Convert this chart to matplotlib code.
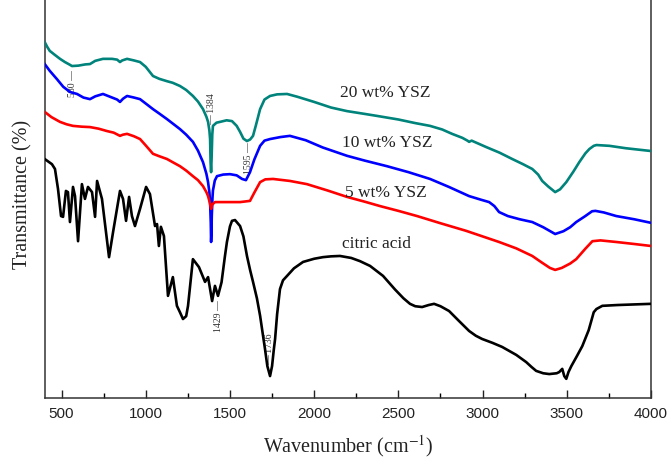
import matplotlib
matplotlib.use("Agg")
import matplotlib.pyplot as plt

# ---- data ----
w_ysz20 = [400, 415, 430, 460, 491, 520, 550, 562, 600, 640, 669, 700, 746, 800, 830, 847, 860, 889, 930, 966,
           1000, 1043, 1080, 1126, 1160, 1203, 1240, 1280, 1310, 1340, 1360, 1370, 1378, 1382, 1385, 1388, 1391,
           1395, 1399, 1420, 1441, 1480, 1512, 1540, 1560, 1580, 1601, 1620, 1637, 1655, 1679, 1705, 1738, 1780,
           1839, 1900, 2000, 2100, 2195, 2300, 2373, 2500, 2600, 2688, 2760, 2819, 2880, 2910, 2920, 2935, 3021,
           3100, 3176, 3240, 3295, 3330, 3354, 3390, 3431, 3460, 3497, 3540, 3574, 3610, 3634, 3660, 3676, 3753,
           3850, 4000]
t_ysz20 = [89.2, 88.0, 87.0, 86.0, 85.0, 84.2, 83.5, 83.2, 83.3, 83.6, 83.7, 84.5, 85.0, 85.0, 84.8, 84.2, 84.6, 85.0,
           84.6, 84.2, 83.0, 80.7, 80.0, 79.4, 79.0, 78.2, 77.2, 75.7, 74.3, 72.4, 70.5, 69.2, 67.0, 64.9, 59.0,
           56.6, 60.0, 66.0, 68.2, 69.0, 69.2, 69.6, 69.4, 68.2, 66.7, 65.0, 64.4, 64.8, 65.7, 68.5, 72.4, 74.8,
           75.7, 76.1, 76.2, 75.5, 74.2, 72.8, 71.9, 71.2, 70.7, 69.8, 68.9, 68.2, 67.3, 66.2, 65.2, 64.5, 64.2,
           64.5, 62.9, 61.5, 59.9, 58.6, 57.4, 56.0, 54.4, 53.0, 51.6, 52.3, 54.1, 56.8, 59.1, 61.3, 62.4, 63.2,
           63.4, 63.2, 62.6, 61.9]

w_ysz10 = [400, 430, 473, 510, 550, 592, 630, 669, 700, 746, 800, 830, 847, 865, 889, 930, 966, 1000, 1043, 1080,
           1126, 1160, 1203, 1240, 1280, 1310, 1340, 1360, 1370, 1378, 1382, 1386, 1388, 1390, 1392, 1396, 1399,
           1410, 1423, 1460, 1500, 1540, 1572, 1595, 1619, 1645, 1679, 1705, 1738, 1800, 1856, 1950, 2050, 2195,
           2300, 2432, 2560, 2688, 2800, 2920, 2990, 3039, 3070, 3098, 3150, 3220, 3295, 3360, 3431, 3480, 3520,
           3556, 3610, 3650, 3670, 3720, 3794, 3900, 4000]
t_ysz10 = [83.7, 82.0, 79.9, 78.0, 76.7, 76.2, 75.3, 74.9, 75.6, 76.2, 75.3, 74.8, 74.2, 75.0, 75.7, 75.3, 74.9, 73.8,
           72.4, 71.3, 69.9, 68.8, 67.4, 66.0, 64.2, 62.0, 59.1, 56.2, 54.1, 51.5, 49.1, 44.0, 39.1, 41.0, 45.5,
           50.0, 52.0, 54.5, 55.6, 56.0, 56.1, 55.8, 54.9, 54.6, 56.6, 59.8, 63.2, 64.5, 64.9, 65.4, 65.7, 64.6,
           62.8, 60.7, 59.5, 58.1, 56.6, 54.9, 52.9, 50.6, 49.7, 49.1, 48.1, 46.6, 45.6, 44.8, 44.1, 42.8, 41.1,
           41.8, 42.8, 44.1, 45.6, 46.8, 46.9, 46.5, 45.6, 44.8, 43.9]

w_ysz5 = [400, 440, 491, 530, 568, 620, 669, 720, 770, 810, 847, 865, 889, 930, 966, 1000, 1043, 1080, 1126, 1160,
          1203, 1240, 1280, 1310, 1340, 1360, 1370, 1380, 1388, 1395, 1411, 1482, 1560, 1619, 1645, 1679, 1710,
          1756, 1856, 1957, 2080, 2195, 2300, 2391, 2500, 2611, 2750, 2902, 3000, 3098, 3200, 3295, 3350, 3400,
          3431, 3470, 3520, 3556, 3610, 3652, 3700, 3794, 3900, 4000]
t_ysz5 = [71.7, 70.4, 69.2, 68.6, 68.2, 68.0, 67.9, 67.5, 66.9, 66.5, 65.7, 66.0, 66.2, 65.6, 64.9, 63.3, 61.2, 60.6,
          59.9, 59.1, 58.1, 57.0, 55.6, 54.6, 53.1, 51.6, 50.6, 49.0, 47.4, 48.5, 49.1, 49.1, 49.1, 49.4, 51.5,
          54.1, 54.8, 54.9, 54.4, 53.6, 52.0, 50.4, 49.2, 48.1, 46.9, 45.6, 43.8, 41.9, 40.5, 39.1, 37.5, 35.6,
          34.0, 32.6, 32.1, 32.6, 33.7, 34.8, 37.4, 39.3, 39.5, 39.1, 38.6, 38.1]

w_citric = [400, 443, 461, 479, 497, 509, 526, 538, 550, 568, 580, 598, 621, 639, 657, 681, 699, 711, 740, 782, 806,
            847, 865, 883, 901, 918, 936, 966, 1002, 1025, 1055, 1067, 1078, 1090, 1108, 1132, 1161, 1185, 1203,
            1221, 1240, 1251, 1280, 1316, 1352, 1370, 1394, 1411, 1429, 1450, 1470, 1482, 1500, 1512, 1530, 1560,
            1580, 1601, 1620, 1637, 1660, 1679, 1695, 1708, 1722, 1738, 1750, 1760, 1768, 1780, 1797, 1815, 1839,
            1880, 1934, 2000, 2052, 2100, 2153, 2220, 2272, 2332, 2409, 2480, 2530, 2569, 2600, 2641, 2680, 2712,
            2750, 2801, 2860, 2920, 2960, 2997, 3060, 3116, 3200, 3259, 3290, 3318, 3360, 3396, 3440, 3455, 3473,
            3485, 3497, 3510, 3527, 3560, 3592, 3630, 3660, 3676, 3711, 3800, 4000]
t_citric = [59.9, 58.6, 57.4, 52.4, 45.6, 45.4, 51.9, 51.6, 44.1, 52.9, 50.6, 39.3, 53.6, 49.9, 52.9, 51.6, 45.4,
            54.4, 49.9, 35.3, 41.6, 51.9, 49.9, 44.4, 50.4, 45.6, 43.1, 47.4, 52.9, 51.1, 43.1, 43.6, 38.1, 42.9,
            40.6, 25.6, 30.3, 23.1, 21.5, 19.8, 20.5, 23.1, 34.8, 32.8, 29.1, 30.3, 24.3, 28.1, 25.6, 29.0, 35.5,
            39.1, 43.0, 44.4, 44.6, 43.1, 40.5, 35.6, 32.0, 29.1, 25.0, 20.6, 16.0, 12.3, 8.0, 5.5, 8.0, 12.0,
            14.8, 21.0, 27.3, 29.5, 30.6, 32.5, 34.1, 34.9, 35.3, 35.5, 35.6, 35.1, 34.3, 33.1, 30.6, 27.2, 25.0,
            23.6, 23.0, 22.8, 23.3, 23.6, 23.0, 21.8, 19.3, 16.8, 15.6, 14.8, 13.8, 12.8, 10.8, 9.0, 7.8, 6.8,
            6.2, 6.0, 6.2, 6.5, 7.3, 5.5, 4.8, 6.5, 8.0, 10.5, 13.0, 17.0, 21.5, 22.3, 23.1, 23.3, 23.6]

series_labels = ["20 wt% YSZ", "10 wt% YSZ", "5 wt% YSZ", "citric acid"]
series_colors = ["#00837a", "#0000ff", "#ff0000", "#000000"]
label_pos = [(2422, 76.7), (2433, 64.2), (2427, 51.6), (2373, 38.8)]

peak_texts = ["580 \u2014", "\u2014 1384", "1595 \u2014", "1429 \u2014", "\u2014 1736"]
peak_pos = [(568, 79.0), (1388, 72.7), (1610, 60.3), (1429, 20.8), (1736, 12.5)]

x_ticks = [500, 1000, 1500, 2000, 2500, 3000, 3500, 4000]

# ---- figure ----
plt.rcParams['mathtext.fontset'] = 'stix'
fig = plt.figure(figsize=(6.72, 4.60), dpi=100)
ax = fig.add_axes([44.7 / 672, 61 / 460, 606.3 / 672, 399 / 460])

curves = [(w_ysz20, t_ysz20), (w_ysz10, t_ysz10), (w_ysz5, t_ysz5), (w_citric, t_citric)]
for (w, t), c in zip(curves, series_colors):
    ax.plot(w, t, color=c, lw=1.9, zorder=3, solid_joinstyle='round')

serif = 'Liberation Serif'
for lab, (x, y) in zip(series_labels, label_pos):
    ax.text(x, y, lab, ha='center', va='center', fontsize=12.5, family=serif, color='#222222')

for txt, (x, y) in zip(peak_texts, peak_pos):
    ax.text(x, y, txt, rotation=90, ha='center', va='center', fontsize=7, family=serif,
            color='#333333', zorder=2)

ax.set_xlim(400, 4000)
ax.set_ylim(0, 100)
ax.set_xticks(x_ticks)
ax.set_xticks(range(750, 4000, 500), minor=True)
ax.set_yticks([])
ax.tick_params(axis='x', which='major', direction='in', length=6, width=1, pad=6,
               labelsize=11, colors='#222222')
ax.tick_params(axis='x', which='minor', direction='in', length=3.5, width=1)
for lbl in ax.get_xticklabels():
    lbl.set_family('Liberation Sans')

ax.spines['top'].set_visible(False)
for s in ['left', 'right', 'bottom']:
    ax.spines[s].set_linewidth(1.1)
    ax.spines[s].set_color('#333333')

ax.set_xlabel('Wavenumber (cm$^{-1}$)', fontsize=14.5, family=serif, color='#222222')
ax.xaxis.set_label_coords(0.5, -0.085)
ax.set_ylabel('Transmittance (%)', fontsize=14.5, family=serif, color='#222222')
ax.yaxis.set_label_coords(-0.02, 0.512)

fig.savefig('out.png', dpi=100)
